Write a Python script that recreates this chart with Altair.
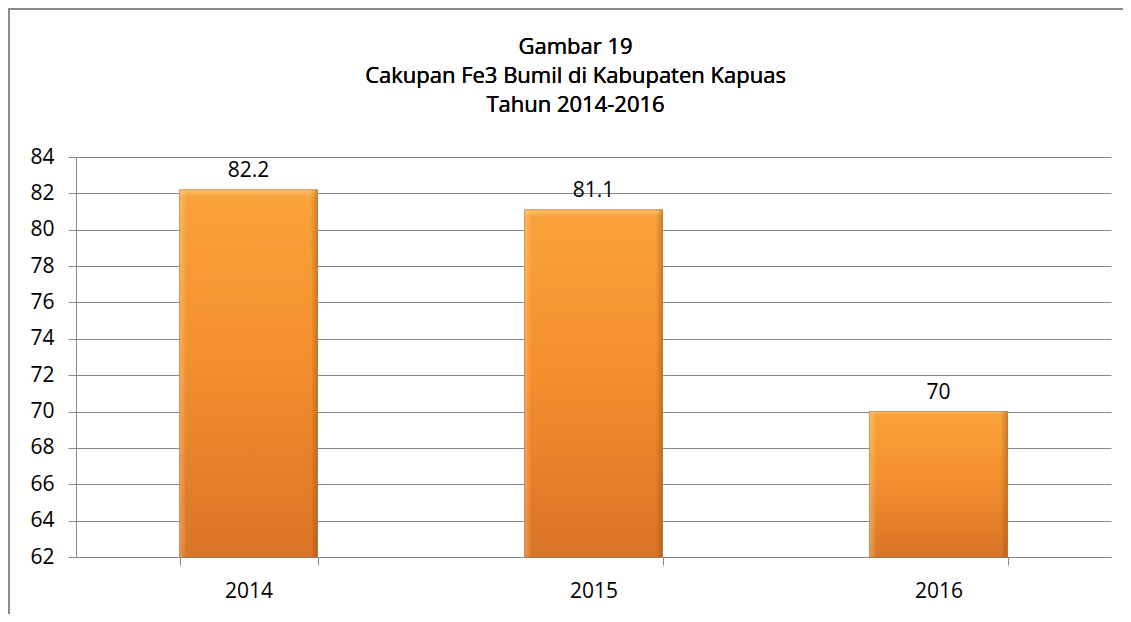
import altair as alt
import pandas as pd

years = ["2014", "2015", "2016"]
values = [82.2, 81.1, 70]
y_ticks = [62, 64, 66, 68, 70, 72, 74, 76, 78, 80, 82, 84]
title_lines = ["Gambar 19", "Cakupan Fe3 Bumil di Kabupaten Kapuas", "Tahun  2014-2016"]

df = pd.DataFrame({"year": years, "value": values})

W, H = 1035, 400
FONT = "Open Sans"
GRID = "#8a8a8a"

base = alt.Chart(df)

x_axis = alt.Axis(
    labelAngle=0, labelFontSize=21, labelFont=FONT, labelColor="#000000",
    labelPadding=15, tickBand="extent", tickSize=8, tickColor=GRID,
    domainColor=GRID, grid=False,
)
y_axis = alt.Axis(
    values=y_ticks, labelFontSize=21, labelFont=FONT, labelColor="#000000",
    labelPadding=14, labelOverlap=False, tickSize=8, tickColor=GRID,
    domainColor=GRID, gridColor=GRID, gridWidth=1, gridOpacity=1,
)
x_scale = alt.Scale(paddingInner=0.6, paddingOuter=0.3)
y_scale = alt.Scale(domain=[62, 84], zero=False, nice=False)

x_enc = alt.X("year:N", sort=years, title=None, scale=x_scale, axis=x_axis)
y_enc = alt.Y("value:Q", scale=y_scale, title=None, axis=y_axis)

bars = base.mark_bar(
    color=alt.Gradient(
        gradient="linear", x1=0, y1=0, x2=0, y2=1,
        stops=[
            alt.GradientStop(offset=0, color="#fcc46e"),
            alt.GradientStop(offset=0.02, color="#f9a23a"),
            alt.GradientStop(offset=0.45, color="#f4902e"),
            alt.GradientStop(offset=1, color="#da7427"),
        ],
    ),
    stroke="#c4661f", strokeWidth=1, strokeOpacity=0.7,
).encode(
    x=x_enc,
    y=y_enc,
    y2=alt.datum(62),
)

bevel = base.mark_bar(
    color=alt.Gradient(
        gradient="linear", x1=0, y1=0, x2=1, y2=0,
        stops=[
            alt.GradientStop(offset=0, color="rgba(255,220,150,0.35)"),
            alt.GradientStop(offset=0.05, color="rgba(255,255,255,0)"),
            alt.GradientStop(offset=0.95, color="rgba(120,60,10,0)"),
            alt.GradientStop(offset=1, color="rgba(120,60,10,0.35)"),
        ],
    ),
).encode(
    x=x_enc,
    y=y_enc,
    y2=alt.datum(62),
)

labels = base.mark_text(
    fontSize=21, font=FONT, color="#000000", baseline="alphabetic", dy=-13,
).encode(
    x=x_enc,
    y=y_enc,
    text=alt.Text("value:Q"),
)

title = base.mark_text(
    fontSize=22, font=FONT, color="#000000", align="center",
    baseline="alphabetic", lineHeight=29,
).encode(
    x=alt.value(W / 2 - 18), y=alt.value(-103), text=alt.value(title_lines)
)

frame_left = base.mark_rule(color="#8c8c8c", strokeWidth=2).encode(
    x=alt.value(-67), y=alt.value(-149), y2=alt.value(H + 57)
)
frame_top = base.mark_rule(color="#8c8c8c", strokeWidth=2).encode(
    x=alt.value(-68), x2=alt.value(W + 12), y=alt.value(-148)
)

chart = alt.layer(bars, bevel, labels, title, frame_left, frame_top).properties(
    width=W,
    height=H,
    autosize=alt.AutoSizeParams(type="none"),
    padding={"left": 68, "top": 149, "right": 12, "bottom": 57},
).configure_view(stroke=None)

chart.save("out.html", embed_options={"renderer": "svg", "actions": False})
